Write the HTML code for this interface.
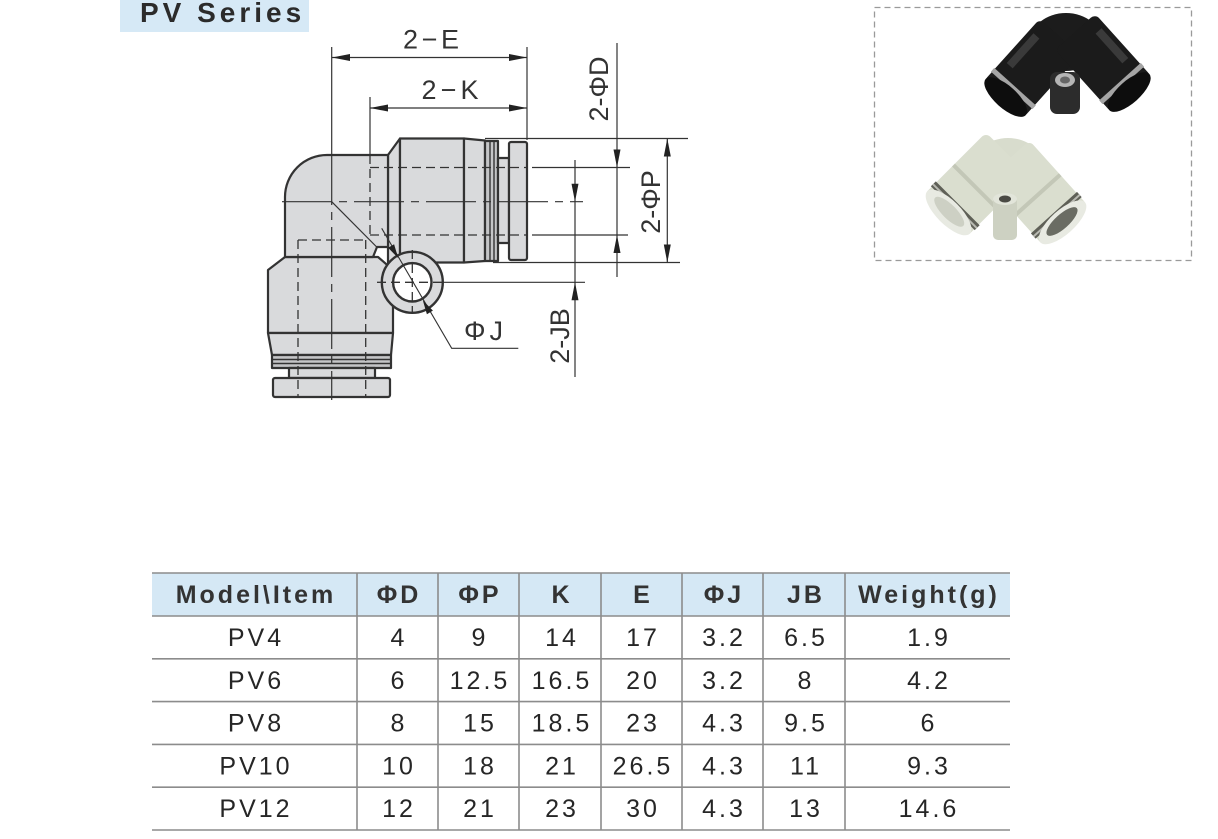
<!DOCTYPE html>
<html><head><meta charset="utf-8">
<style>
html,body{margin:0;padding:0;background:#fff;}
svg{display:block;}
text{font-family:"Liberation Sans","DejaVu Sans",sans-serif;}
</style></head>
<body>
<svg width="1218" height="839" viewBox="0 0 1218 839" xmlns="http://www.w3.org/2000/svg">
<!-- Title -->
<rect x="120" y="0" width="189" height="32" fill="#d6e9f6"/>
<text x="140" y="22" font-size="28" font-weight="bold" letter-spacing="4" fill="#2b2b2b">PV Series</text>

<!-- ===== Drawing body ===== -->
<g fill="#d9dadc" stroke="#333" stroke-width="2.2" stroke-linejoin="round">
  <polygon points="268,270 285,257 378,257 393,270 393,333 268,333"/>
  <polygon points="268,333 393,333 391,355 272,355"/>
  <rect x="272" y="355" width="119" height="13" fill="#c4c5c7"/>
  <rect x="289" y="368" width="86" height="10"/>
  <rect x="273" y="378" width="117" height="19" rx="2"/>
  <polygon points="388,155 400,138.5 400,262.5 388,262.5"/>
  <rect x="400" y="138.5" width="64" height="124"/>
  <polygon points="464,138.5 485,140.5 485,261 464,262.5"/>
  <rect x="485" y="141" width="13" height="120" fill="#c4c5c7"/>
  <rect x="498" y="158" width="11" height="85"/>
  <rect x="509" y="142" width="18" height="118" rx="2"/>
  <path d="M285,257 L285,197 A42,42 0 0 1 327,155 L388,155 L388,247 L377,247 L373,257 Z"/>
</g>
<g stroke="#333" stroke-width="1.4" fill="none">
  <line x1="490" y1="141" x2="490" y2="261"/>
  <line x1="494" y1="141" x2="494" y2="261"/>
  <line x1="272" y1="359.5" x2="391" y2="359.5"/>
  <line x1="272" y1="363.5" x2="391" y2="363.5"/>
</g>
<circle cx="412.3" cy="282.3" r="30.5" fill="#d9dadc" stroke="#333" stroke-width="2.4"/>
<circle cx="412.3" cy="282.3" r="19.2" fill="#fff" stroke="#333" stroke-width="2.4"/>

<g stroke="#333" stroke-width="1.3" fill="none" stroke-dasharray="9 5">
  <line x1="370" y1="155" x2="370" y2="235"/>
  <line x1="370" y1="167.5" x2="527" y2="167.5"/>
  <line x1="370" y1="235" x2="527" y2="235"/>
  <line x1="298" y1="240" x2="298" y2="397"/>
  <line x1="365.7" y1="240" x2="365.7" y2="397"/>
  <line x1="298" y1="240" x2="365.7" y2="240"/>
  <line x1="377" y1="282.3" x2="443" y2="282.3"/>
  <line x1="412.3" y1="250" x2="412.3" y2="313"/>
</g>
<g stroke="#333" stroke-width="1.2" fill="none" stroke-dasharray="50 7 8 7">
  <line x1="282" y1="201.7" x2="583" y2="201.7"/>
  <line x1="331.7" y1="155" x2="331.7" y2="400"/>
</g>
<g stroke="#333" stroke-width="1.2" fill="none">
  <line x1="331.7" y1="47" x2="331.7" y2="155"/>
  <line x1="527" y1="47" x2="527" y2="140"/>
  <line x1="370" y1="97" x2="370" y2="155"/>
  <line x1="332" y1="57.5" x2="527" y2="57.5"/>
  <line x1="370" y1="108" x2="527" y2="108"/>
  <line x1="485" y1="138.5" x2="688" y2="138.5"/>
  <line x1="493" y1="262.5" x2="680" y2="262.5"/>
  <line x1="532" y1="167.5" x2="630" y2="167.5"/>
  <line x1="532" y1="235" x2="628" y2="235"/>
  <line x1="617" y1="43" x2="617" y2="277"/>
  <line x1="667.3" y1="138.5" x2="667.3" y2="262.5"/>
  <line x1="575" y1="160" x2="575" y2="377"/>
  <line x1="443" y1="282.3" x2="585" y2="282.3"/>
  <line x1="331.7" y1="201.7" x2="376.7" y2="247"/>
  <polyline points="381.7,228.3 451.7,348.3 518.3,348.3" stroke-width="1.1"/>
</g>
<g fill="#222" stroke="none">
  <polygon points="332,57.5 350,54 350,61"/>
  <polygon points="527,57.5 509,54 509,61"/>
  <polygon points="370,108 388,104.5 388,111.5"/>
  <polygon points="527,108 509,104.5 509,111.5"/>
  <polygon points="617,167.5 613.5,149.5 620.5,149.5"/>
  <polygon points="617,235 613.5,253 620.5,253"/>
  <polygon points="667.3,138.5 663.8,156.5 670.8,156.5"/>
  <polygon points="667.3,262.5 663.8,244.5 670.8,244.5"/>
  <polygon points="575,201.7 571.5,183.7 578.5,183.7"/>
  <polygon points="575,282.3 571.5,300.3 578.5,300.3"/>
  <polygon points="398.2,258.1 394.1,244.2 388.1,247.8"/>
  <polygon points="422.8,300.3 432.9,310.6 426.9,314.2"/>
</g>
<g fill="#333" font-size="27">
  <text x="403" y="48.5" textLength="56" lengthAdjust="spacing">2−E</text>
  <text x="421.5" y="99" textLength="57" lengthAdjust="spacing">2−K</text>
  <text x="464" y="340" textLength="39" lengthAdjust="spacing">ΦJ</text>
  <text transform="translate(608,89) rotate(-90)" text-anchor="middle">2-ΦD</text>
  <text transform="translate(660,202) rotate(-90)" text-anchor="middle">2-ΦP</text>
  <text transform="translate(569,336) rotate(-90)" text-anchor="middle">2-JB</text>
</g>

<!-- ===== Photo box ===== -->
<rect x="874.5" y="7.5" width="317" height="253" fill="#fff" stroke="#9a9a9a" stroke-width="1.3" stroke-dasharray="6 4"/>
<!-- black fitting -->
<g>
  <ellipse cx="1066" cy="42" rx="36" ry="29" fill="#1c1c1c"/>
  <g transform="translate(1003,100) rotate(-48)">
    <rect x="0" y="-27" width="85" height="54" rx="6" fill="#1b1b1b"/>
    <rect x="30" y="-22" width="40" height="8" fill="#3a3a3a"/>
    <rect x="13" y="-28" width="5" height="56" fill="#a5a5a5"/>
    <ellipse cx="4" cy="0" rx="11" ry="27" fill="#0d0d0d"/>
  </g>
  <g transform="translate(1132,95) rotate(-132)">
    <rect x="0" y="-27" width="85" height="54" rx="6" fill="#1b1b1b"/>
    <rect x="30" y="14" width="40" height="8" fill="#3a3a3a"/>
    <rect x="13" y="-28" width="5" height="56" fill="#a5a5a5"/>
    <ellipse cx="4" cy="0" rx="11" ry="27" fill="#0d0d0d"/>
  </g>
  <rect x="1050" y="72" width="30" height="42" rx="7" fill="#2c2c2c"/>
  <ellipse cx="1065" cy="80" rx="10" ry="7" fill="#b5b5b5"/>
  <ellipse cx="1065" cy="80" rx="5" ry="3.5" fill="#666"/>
</g>
<!-- gray fitting -->
<g>
  <ellipse cx="1008" cy="168" rx="36" ry="30" fill="#d8dccd"/>
  <g transform="translate(945,216) rotate(-45)">
    <rect x="0" y="-30" width="88" height="60" rx="6" fill="#dadecf"/>
    <rect x="40" y="-30" width="4" height="60" fill="#c3c7b7"/>
    <rect x="11" y="-31" width="7" height="62" fill="#5f6057"/>
    <rect x="13" y="-31" width="2" height="62" fill="#b9bab2"/>
    <ellipse cx="5" cy="0" rx="12" ry="30" fill="#e8eae2"/>
    <ellipse cx="6" cy="0" rx="7" ry="20" fill="#cdd0c4"/>
  </g>
  <g transform="translate(1066,226) rotate(-132)">
    <rect x="0" y="-30" width="88" height="60" rx="6" fill="#dadecf"/>
    <rect x="40" y="-30" width="4" height="60" fill="#c3c7b7"/>
    <rect x="11" y="-31" width="7" height="62" fill="#5f6057"/>
    <rect x="13" y="-31" width="2" height="62" fill="#b9bab2"/>
    <ellipse cx="5" cy="0" rx="12" ry="30" fill="#e8eae2"/>
    <ellipse cx="6" cy="0" rx="7" ry="20" fill="#6a6c63"/>
  </g>
  <rect x="993" y="196" width="24" height="44" rx="5" fill="#cdd1c2"/>
  <ellipse cx="1005" cy="199" rx="12" ry="6" fill="#e2e5da"/>
  <ellipse cx="1005" cy="199" rx="6" ry="3.5" fill="#4a4a44"/>
</g>

<!-- ===== Table ===== -->
<rect x="152" y="573" width="858" height="43" fill="#d5e8f5"/>
<g stroke="#8c8c8c" stroke-width="1.6">
  <line x1="152" y1="573" x2="1010" y2="573"/>
  <line x1="152" y1="616" x2="1010" y2="616"/>
  <line x1="152" y1="658.8" x2="1010" y2="658.8"/>
  <line x1="152" y1="701.6" x2="1010" y2="701.6"/>
  <line x1="152" y1="744.4" x2="1010" y2="744.4"/>
  <line x1="152" y1="787.2" x2="1010" y2="787.2"/>
  <line x1="152" y1="830" x2="1010" y2="830"/>
  <line x1="357" y1="573" x2="357" y2="830"/>
  <line x1="438" y1="573" x2="438" y2="830"/>
  <line x1="519" y1="573" x2="519" y2="830"/>
  <line x1="601" y1="573" x2="601" y2="830"/>
  <line x1="682" y1="573" x2="682" y2="830"/>
  <line x1="763" y1="573" x2="763" y2="830"/>
  <line x1="845" y1="573" x2="845" y2="830"/>
</g>
<g font-size="25" font-weight="bold" letter-spacing="3" fill="#333" text-anchor="middle">
  <text x="256" y="603">Model\Item</text>
  <text x="399" y="603">ΦD</text>
  <text x="480" y="603">ΦP</text>
  <text x="562" y="603">K</text>
  <text x="643" y="603">E</text>
  <text x="724" y="603">ΦJ</text>
  <text x="806" y="603">JB</text>
  <text x="929" y="603">Weight(g)</text>
</g>
<g font-size="25" letter-spacing="3" fill="#262626" text-anchor="middle">
  <text x="256" y="646">PV4</text><text x="399" y="646">4</text><text x="480" y="646">9</text><text x="562" y="646">14</text><text x="643" y="646">17</text><text x="724" y="646">3.2</text><text x="806" y="646">6.5</text><text x="929" y="646">1.9</text>
  <text x="256" y="688.8">PV6</text><text x="399" y="688.8">6</text><text x="480" y="688.8">12.5</text><text x="562" y="688.8">16.5</text><text x="643" y="688.8">20</text><text x="724" y="688.8">3.2</text><text x="806" y="688.8">8</text><text x="929" y="688.8">4.2</text>
  <text x="256" y="731.6">PV8</text><text x="399" y="731.6">8</text><text x="480" y="731.6">15</text><text x="562" y="731.6">18.5</text><text x="643" y="731.6">23</text><text x="724" y="731.6">4.3</text><text x="806" y="731.6">9.5</text><text x="929" y="731.6">6</text>
  <text x="256" y="774.4">PV10</text><text x="399" y="774.4">10</text><text x="480" y="774.4">18</text><text x="562" y="774.4">21</text><text x="643" y="774.4">26.5</text><text x="724" y="774.4">4.3</text><text x="806" y="774.4">11</text><text x="929" y="774.4">9.3</text>
  <text x="256" y="817.2">PV12</text><text x="399" y="817.2">12</text><text x="480" y="817.2">21</text><text x="562" y="817.2">23</text><text x="643" y="817.2">30</text><text x="724" y="817.2">4.3</text><text x="806" y="817.2">13</text><text x="929" y="817.2">14.6</text>
</g>
</svg>
</body></html>
